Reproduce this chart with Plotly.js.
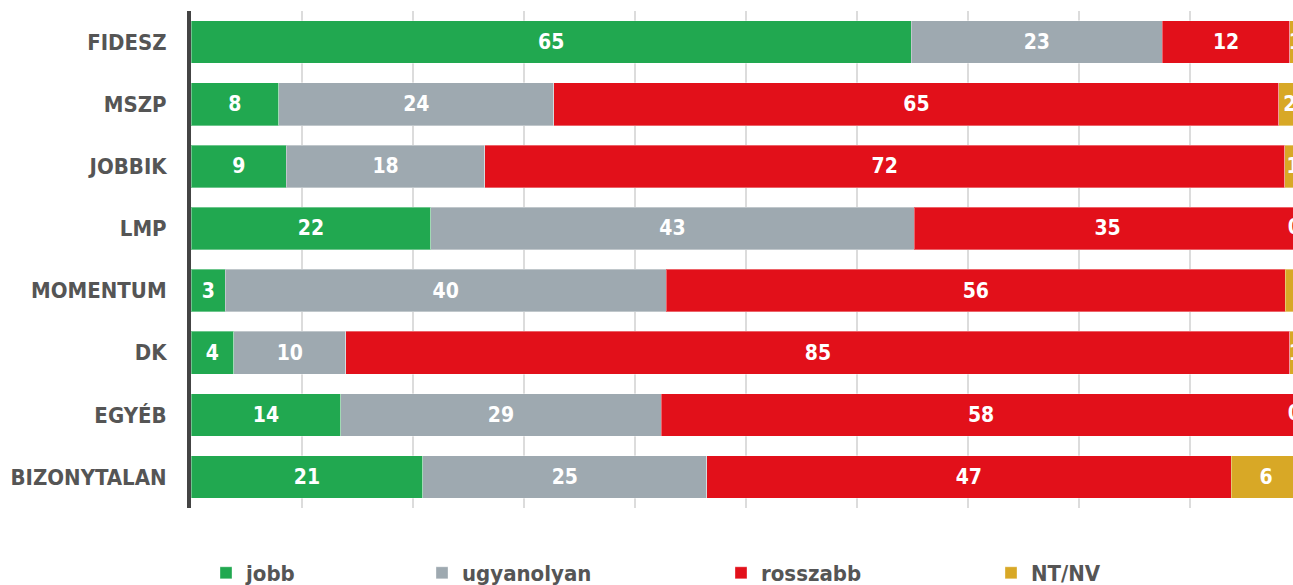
<!DOCTYPE html>
<html><head><meta charset="utf-8">
<script src="https://cdn.plot.ly/plotly-3.0.1.min.js"></script>
<style>html,body{margin:0;padding:0;overflow:hidden;background:#fff;width:1293px;height:585px}</style>
</head><body><div id="chart"></div>
<script>
const categories = ['FIDESZ','MSZP','JOBBIK','LMP','MOMENTUM','DK','EGYÉB','BIZONYTALAN'];
const seriesNames = ['jobb','ugyanolyan','rosszabb','NT/NV'];
// segment lengths
const jobb       = [64.9, 7.9, 8.6, 21.6, 3.1, 3.85, 13.5, 20.9];
const ugyanolyan = [22.6, 24.8, 17.85, 43.55, 39.7, 10.1, 28.85, 25.55];
const rosszabb   = [11.5, 65.3, 72.1, 34.85, 55.8, 85.05, 57.65, 47.25];
const ntnv       = [1.0, 2.0, 1.45, 0, 1.45, 1.0, 0, 6.3];
// printed labels
const jobbLabels       = ['65','8','9','22','3','4','14','21'];
const ugyanolyanLabels = ['23','24','18','43','40','10','29','25'];
const rosszabbLabels   = ['12','65','72','35','56','85','58','47'];
const ntnvLabels       = ['1','2','1','0','2','1','0','6'];

const colors = ['#21a850','#9ea9b0','#e2101a','#d8a826'];
const FONT = '"DejaVu Sans Condensed", "Liberation Sans Narrow", "DejaVu Sans", sans-serif';
const W = 1310;
const values = [jobb, ugyanolyan, rosszabb, ntnv];
const labels = [jobbLabels, ugyanolyanLabels, rosszabbLabels, ntnvLabels];
const legendX = [206, 422, 721, 991];

const traces = values.map((v, k) => ({
  type: 'bar', orientation: 'h', name: seriesNames[k],
  x: v, y: categories,
  text: labels[k].map((t, i) => v[i] > 0 ? t : ''),
  textposition: 'inside', insidetextanchor: 'middle', constraintext: 'none', textangle: 0,
  textfont: {family: FONT, size: 21, color: '#ffffff', weight: 600},
  marker: {color: colors[k], line: {color: 'rgba(255,255,255,0.35)', width: 1}},
  legend: k === 0 ? 'legend' : 'legend' + (k + 1),
  hoverinfo: 'x+y+name'
}));
// labels of empty NT/NV segments, placed at the end of the stack
const zeroIdx = ntnv.map((v, i) => v === 0 ? i : -1).filter(i => i >= 0);
traces.push({
  type: 'scatter', mode: 'text', showlegend: false, hoverinfo: 'skip',
  x: zeroIdx.map(i => jobb[i] + ugyanolyan[i] + rosszabb[i]),
  y: zeroIdx.map(i => categories[i]),
  text: zeroIdx.map(i => ntnvLabels[i]),
  textposition: 'middle left',
  textfont: {family: FONT, size: 21, color: '#ffffff', weight: 600},
  cliponaxis: false
});

const layout = {
  width: W, height: 585, autosize: false,
  margin: {l: 191, r: W - 191 - 1110, t: 11, b: 77},
  paper_bgcolor: '#ffffff', plot_bgcolor: '#ffffff',
  barmode: 'stack', bargap: 0.314,
  font: {family: FONT, color: '#555555'},
  xaxis: {range: [0, 100], dtick: 10, tick0: 0, showgrid: true, gridcolor: '#dcdcdc', gridwidth: 2,
          showticklabels: false, zeroline: false, showline: false, fixedrange: true},
  yaxis: {type: 'category', categoryorder: 'array', categoryarray: categories, autorange: 'reversed',
          showline: true, linecolor: '#444444', linewidth: 4, showgrid: false, zeroline: false,
          ticks: '', ticklabelstandoff: 16,
          tickfont: {family: FONT, size: 22, color: '#555555', weight: 700}, fixedrange: true},
  showlegend: true
};
seriesNames.forEach((n, k) => {
  layout[k === 0 ? 'legend' : 'legend' + (k + 1)] = {
    xref: 'container', yref: 'container', x: legendX[k] / W, y: 12 / 585,
    xanchor: 'left', yanchor: 'middle', orientation: 'h', bgcolor: 'rgba(0,0,0,0)',
    borderwidth: 0, itemwidth: 30,
    font: {family: FONT, size: 22, color: '#555555', weight: 600}
  };
});
Plotly.newPlot('chart', traces, layout, {displayModeBar: false, staticPlot: true});
</script></body></html>
